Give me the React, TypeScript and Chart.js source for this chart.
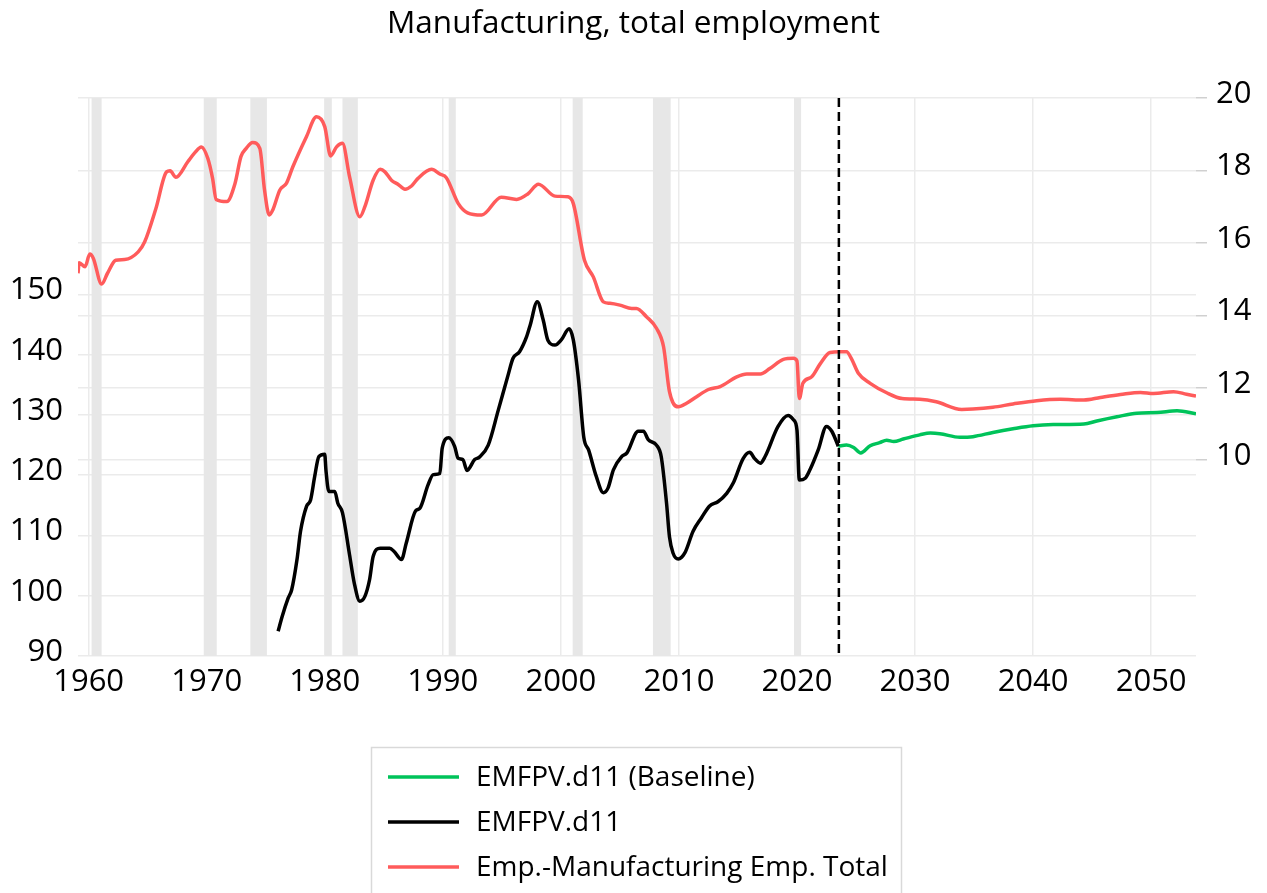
import React, { useEffect, useRef } from "react";
import { Chart, registerables } from "chart.js";
Chart.register(...registerables);

const TITLE = "Manufacturing, total employment";

const redLabel = "Emp.-Manufacturing Emp. Total";
const blackLabel = "EMFPV.d11";
const greenLabel = "EMFPV.d11 (Baseline)";

const redYears = [1959.1,1959.2,1959.7,1960.1,1960.4,1961.1,1961.6,1962.3,1963.05,1964.2,1964.75,1965.7,1966.6,1966.9,1967.4,1968.4,1969.0,1969.55,1970.1,1970.5,1970.8,1971.7,1972.4,1972.9,1973.35,1973.9,1974.5,1974.9,1975.3,1975.6,1976.2,1976.75,1977.3,1978.45,1979.3,1980.0,1980.5,1981.0,1981.5,1982.1,1982.97,1983.4,1984.1,1984.7,1985.1,1985.65,1986.2,1986.8,1987.35,1987.9,1989.05,1989.75,1990.3,1991.3,1992.1,1993.3,1994.95,1996.25,1997.2,1998.1,1999.5,2000.6,2001.05,2002.0,2002.75,2003.6,2004.15,2005.0,2006.0,2006.4,2007.25,2008.1,2008.7,2009.2,2009.95,2010.65,2011.5,2012.5,2013.5,2014.9,2015.75,2016.9,2017.7,2018.85,2019.7,2020.0,2020.2,2020.5,2021.25,2021.95,2022.8,2023.65,2024.2,2024.6,2025.2,2026.2,2027.6,2028.9,2030.4,2031.8,2033.95,2034.9,2036.6,2038.3,2040.3,2042.3,2044.3,2045.7,2047.4,2049.1,2050.2,2051.9,2053.0,2053.8];
const redValues = [15.16,15.45,15.34,15.69,15.57,14.86,15.16,15.52,15.54,15.75,16.03,16.95,17.96,17.99,17.81,18.24,18.49,18.65,18.33,17.78,17.2,17.14,17.64,18.38,18.61,18.77,18.61,17.46,16.77,16.91,17.46,17.64,18.1,18.93,19.48,19.21,18.4,18.65,18.75,17.83,16.72,17.0,17.73,18.03,17.96,17.73,17.62,17.48,17.57,17.78,18.03,17.9,17.8,17.09,16.83,16.77,17.26,17.2,17.35,17.62,17.29,17.27,17.09,15.52,15.06,14.37,14.33,14.28,14.19,14.19,13.96,13.64,13.13,11.89,11.47,11.57,11.75,11.95,12.03,12.3,12.38,12.38,12.53,12.78,12.81,12.74,11.7,12.12,12.3,12.65,12.97,12.99,12.99,12.81,12.4,12.12,11.86,11.7,11.68,11.61,11.4,11.41,11.46,11.55,11.64,11.68,11.66,11.73,11.81,11.87,11.84,11.89,11.82,11.77];

const blackYears = [1976.05,1976.4,1976.9,1977.2,1977.65,1977.95,1978.45,1978.8,1979.15,1979.5,1980.0,1980.1,1980.35,1980.85,1981.1,1981.5,1982.1,1982.5,1982.97,1983.4,1983.8,1984.1,1984.7,1985.5,1985.9,1986.5,1986.9,1987.7,1988.05,1988.75,1989.2,1989.75,1989.95,1990.5,1991.0,1991.3,1991.7,1992.05,1992.7,1993.1,1993.85,1994.7,1995.5,1995.95,1996.5,1997.1,1997.4,1998.0,1998.5,1998.9,1999.5,2000.05,2000.7,2001.05,2001.5,2001.95,2002.35,2003.0,2003.6,2004.0,2004.45,2005.15,2005.6,2006.55,2007.0,2007.4,2008.1,2008.5,2008.95,2009.2,2009.5,2009.95,2010.5,2011.2,2011.9,2012.6,2013.3,2014.05,2014.6,2015.45,2016.0,2016.4,2016.9,2017.3,2018.4,2019.25,2019.7,2020.0,2020.2,2020.7,2021.1,2021.8,2022.5,2022.95,2023.5];
const blackValues = [94.1,96.6,99.6,101.0,106.0,110.7,114.8,115.9,119.8,123.1,123.5,120.9,117.3,117.3,115.4,113.8,106.8,102.1,99.1,99.9,102.7,106.5,107.9,107.9,107.3,106.0,108.7,114.1,114.5,118.4,120.1,120.3,124.5,126.2,124.8,122.8,122.6,120.8,122.6,123.0,125.0,130.8,136.4,139.4,140.5,143.0,144.9,148.8,145.8,142.4,141.6,142.5,144.3,142.5,135.8,126.2,124.2,119.8,117.1,117.9,120.9,123.1,123.7,127.3,127.3,125.9,125.0,123.1,115.4,109.8,107.1,106.1,107.1,110.7,112.9,114.9,115.6,117.0,118.7,122.8,123.8,122.8,122.0,123.1,128.1,129.9,129.2,127.5,119.2,119.5,120.9,124.2,128.1,127.3,124.8];

const greenYears = [2023.5,2024.2,2024.8,2025.4,2026.2,2027.0,2027.6,2028.2,2029.0,2030.4,2031.3,2032.1,2033.8,2034.9,2036.6,2038.3,2040.0,2041.7,2044.3,2045.4,2047.1,2048.8,2050.5,2052.2,2053.8];
const greenValues = [124.8,125.0,124.6,123.7,124.9,125.4,125.8,125.6,126.0,126.7,127.0,126.9,126.3,126.4,127.1,127.7,128.2,128.4,128.5,129.0,129.7,130.3,130.4,130.7,130.2];

const xTicks = [1960,1970,1980,1990,2000,2010,2020,2030,2040,2050];
const leftTicks = [90,100,110,120,130,140,150];
const rightTicks = [10,12,14,16,18,20];

const recessionStarts = [1960.25,1969.75,1973.7,1980.0,1981.5,1990.5,2001.0,2007.8,2019.75];
const recessionEnds = [1961.1,1970.85,1975.1,1980.6,1982.8,1991.1,2001.85,2009.3,2020.35];

const forecastStart = 2023.55;

const zip = (xs: number[], ys: number[]) => xs.map((x, i) => ({ x, y: ys[i] }));

export default function App() {
  const ref = useRef<HTMLCanvasElement>(null);

  useEffect(() => {
    const FONT = "'Open Sans', sans-serif";
    const GRID = "#EBEBEB";

    const shading = {
      id: "recessions",
      beforeDatasetsDraw(chart: any) {
        const { ctx, chartArea: a, scales } = chart;
        const x = scales.x;
        ctx.save();
        ctx.fillStyle = "#E7E7E7";
        recessionStarts.forEach((s, i) => {
          const x0 = x.getPixelForValue(s);
          const x1 = x.getPixelForValue(recessionEnds[i]);
          ctx.fillRect(x0, a.top, x1 - x0, a.bottom - a.top);
        });
        ctx.restore();
      },
    };

    const vline = {
      id: "forecastLine",
      afterDatasetsDraw(chart: any) {
        const { ctx, chartArea: a, scales } = chart;
        const px = scales.x.getPixelForValue(forecastStart);
        ctx.save();
        ctx.strokeStyle = "#000";
        ctx.lineWidth = 2.5;
        ctx.setLineDash([9, 5]);
        ctx.beginPath();
        ctx.moveTo(px, a.top);
        ctx.lineTo(px, a.bottom);
        ctx.stroke();
        ctx.restore();
      },
    };

    const titleLegend = {
      id: "titleLegend",
      afterDraw(chart: any) {
        const ctx = chart.ctx;
        ctx.save();
        ctx.fillStyle = "#000";
        ctx.font = `31.5px ${FONT}`;
        ctx.textAlign = "center";
        ctx.textBaseline = "alphabetic";
        ctx.fillText(TITLE, chart.width / 2, 33);

        ctx.strokeStyle = "#D9D9D9";
        ctx.lineWidth = 1.5;
        ctx.strokeRect(371.5, 747.5, 530, 170);
        const order = [2, 1, 0];
        order.forEach((idx, k) => {
          const d = chart.data.datasets[idx];
          const y = 777 + 45 * k;
          ctx.strokeStyle = d.borderColor;
          ctx.lineWidth = 3.5;
          ctx.beginPath();
          ctx.moveTo(388, y);
          ctx.lineTo(459, y);
          ctx.stroke();
          ctx.fillStyle = "#000";
          ctx.font = `28px ${FONT}`;
          ctx.textAlign = "left";
          ctx.textBaseline = "middle";
          ctx.fillText(d.label, 476, y + 1);
        });
        ctx.restore();
      },
    };

    const lineDefaults = {
      pointRadius: 0,
      borderWidth: 3.5,
      tension: 0.3,
      cubicInterpolationMode: "monotone" as const,
      fill: false,
    };

    const chart = new Chart(ref.current as HTMLCanvasElement, {
      type: "line",
      data: {
        datasets: [
          { ...lineDefaults, label: redLabel, data: zip(redYears, redValues), yAxisID: "y2", borderColor: "#FF5B5B" },
          { ...lineDefaults, label: blackLabel, data: zip(blackYears, blackValues), yAxisID: "y", borderColor: "#000000" },
          { ...lineDefaults, label: greenLabel, data: zip(greenYears, greenValues), yAxisID: "y", borderColor: "#00C35A" },
        ],
      },
      options: {
        animation: false,
        responsive: false,
        maintainAspectRatio: false,
        devicePixelRatio: 1,
        layout: { padding: { top: 98, bottom: 180, left: 0, right: 0 } },
        plugins: {
          legend: { display: false },
          title: { display: false },
          tooltip: { enabled: false },
        },
        scales: {
          x: {
            type: "linear",
            min: 1959.1,
            max: 2053.8,
            afterBuildTicks: (s: any) => {
              s.ticks = xTicks.map((v) => ({ value: v }));
            },
            afterFit: (s: any) => {
              s.height = 893 - 180 - 656;
            },
            ticks: {
              callback: (v: any) => String(v),
              font: { family: FONT, size: 31 },
              color: "#000",
              padding: 8,
              maxRotation: 0,
              autoSkip: false,
            },
            grid: { color: GRID, lineWidth: 1.5, drawTicks: false },
            border: { display: false },
          },
          y: {
            type: "linear",
            position: "left",
            min: 90,
            max: 182.6,
            afterBuildTicks: (s: any) => {
              s.ticks = leftTicks.map((v) => ({ value: v }));
            },
            afterFit: (s: any) => {
              s.width = 78;
            },
            ticks: {
              font: { family: FONT, size: 31 },
              color: "#000",
              padding: 15,
              labelOffset: -4,
            },
            grid: { color: GRID, lineWidth: 1.5, drawTicks: false },
            border: { display: false },
          },
          y2: {
            type: "linear",
            position: "right",
            min: 4.59,
            max: 20,
            afterBuildTicks: (s: any) => {
              s.ticks = rightTicks.map((v) => ({ value: v }));
            },
            afterFit: (s: any) => {
              s.width = 71;
            },
            ticks: {
              font: { family: FONT, size: 31 },
              color: "#000",
              padding: 9,
              labelOffset: -4,
            },
            grid: { color: GRID, lineWidth: 1.5, drawTicks: true, tickLength: 11, tickColor: "#D0D0D0" },
            border: { display: false },
          },
        },
      } as any,
      plugins: [shading, vline, titleLegend],
    });
    return () => chart.destroy();
  }, []);

  return (
    <div style={{ position: "absolute", left: 0, top: 0, width: 1267, height: 893, background: "#fff" }}>
      <canvas ref={ref} width={1267} height={893} style={{ display: "block" }} />
    </div>
  );
}
